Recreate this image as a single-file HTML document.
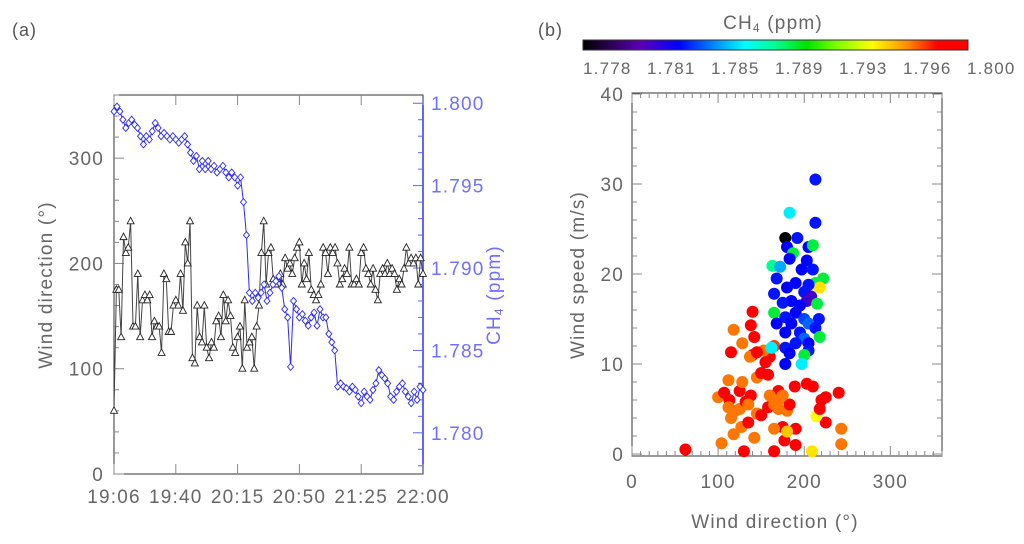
<!DOCTYPE html>
<html><head><meta charset="utf-8"><style>
html,body{margin:0;padding:0;background:#fff;}
svg{display:block;font-family:"Liberation Sans",sans-serif;}
</style></head><body>
<svg id="fig" width="1024" height="544" viewBox="0 0 1024 544">
<defs><linearGradient id="cg" x1="0" x2="1" y1="0" y2="0">
<stop offset="0" stop-color="#000"/><stop offset="0.15" stop-color="#5a00b4"/><stop offset="0.25" stop-color="#0000ff"/><stop offset="0.42" stop-color="#00ffff"/><stop offset="0.5" stop-color="#00ff90"/><stop offset="0.58" stop-color="#00e000"/><stop offset="0.66" stop-color="#80ff00"/><stop offset="0.75" stop-color="#ffff00"/><stop offset="0.84" stop-color="#ff9000"/><stop offset="0.92" stop-color="#ff0000"/><stop offset="1" stop-color="#ff0000"/></linearGradient></defs>
<text x="12" y="36" font-size="18" fill="#555" letter-spacing="1">(a)</text>
<text x="538" y="36" font-size="18" fill="#555" letter-spacing="1">(b)</text>
<g id="a"></g><g id="b"></g>
</svg>
<script>
const timeLabels=["19:06","19:40","20:15","20:50","21:25","22:00"];
const dirTicks=[0,100,200,300];
const ch4Ticks=[1.780,1.785,1.790,1.795,1.800];
const windDir=[60,175,175,130,225,210,215,240,140,140,190,130,165,170,165,170,130,145,140,140,115,190,185,135,135,160,165,160,190,155,220,200,240,110,105,160,130,125,160,120,110,125,120,145,150,130,170,145,165,150,120,115,130,140,100,165,120,125,130,100,140,160,210,240,180,210,215,185,180,185,190,180,205,195,200,190,205,215,220,180,200,185,210,175,170,165,170,180,215,210,190,215,210,215,200,180,185,195,190,215,180,180,185,180,210,215,195,190,180,195,175,165,190,195,190,200,190,195,190,175,185,180,195,215,200,205,200,205,180,205,190];
const ch4Series=[1.7995,1.7998,1.7995,1.7990,1.7985,1.7988,1.7990,1.7987,1.7985,1.7980,1.7975,1.7980,1.7978,1.7983,1.7988,1.7985,1.7980,1.7982,1.7980,1.7978,1.7980,1.7978,1.7976,1.7978,1.7980,1.7975,1.7970,1.7965,1.7968,1.7960,1.7965,1.7960,1.7965,1.7960,1.7962,1.7958,1.7960,1.7962,1.7958,1.7955,1.7958,1.7955,1.7950,1.7955,1.7940,1.7920,1.7885,1.7880,1.7885,1.7882,1.7885,1.7890,1.7880,1.7885,1.7890,1.7892,1.7895,1.7888,1.7875,1.7870,1.7840,1.7880,1.7875,1.7870,1.7872,1.7868,1.7865,1.7870,1.7873,1.7865,1.7875,1.7870,1.7870,1.7860,1.7855,1.7850,1.7828,1.7830,1.7828,1.7827,1.7825,1.7828,1.7826,1.7822,1.7818,1.7825,1.7822,1.7820,1.7826,1.7830,1.7838,1.7835,1.7833,1.7830,1.7822,1.7820,1.7825,1.7828,1.7830,1.7825,1.7822,1.7818,1.7825,1.7820,1.7828,1.7826];
const cbLabels=["1.778","1.781","1.785","1.789","1.793","1.796","1.800"];
const spdTicks=[0,10,20,30,40];
const dirTicksB=[0,100,200,300];
const scDir=[62,104,118,130,142,165,177,190,209,243,190,175,165,180,225,243,214,115,127,135,145,150,158,170,180,183,218,220,225,240,210,203,189,170,160,100,107,113,112,125,132,138,125,128,112,145,150,158,155,160,165,153,140,137,145,115,128,142,118,138,140,120,135,170,175,165,
178,183,213,213,192,180,205,210,187,183,203,163,172,168,197,210,222,213,218,205,190,180,165,200,208,203,185,175,215,195,165,190,178,200,217,185,205,168,178,195,213,218,200,190,205,178,183,205,200,162,178,197];
const scSpd=[0.5,1.2,2.2,0.3,1.8,0.3,1.5,1.0,0.3,1.1,2.8,3,2.8,2.5,3.5,2.8,4.2,4,3,3.5,4.5,4.3,5.2,5,4.8,5.5,5,6,6.3,6.8,7.5,7.8,7.5,7,6.5,6.3,6.8,6,5.2,5,5.8,6.5,7,8,8.2,8.5,9,8.8,10.2,10.8,12,11.5,11,10.8,11.3,11.3,12.3,13,13.8,14.3,15.8,4.8,5.5,6,6.5,5.5,
24,26.8,30.5,25.7,24,23,23,23.2,22.3,21.7,21.5,20.9,20.8,19.5,20.5,20.5,19.5,19,18.5,18.8,19,18.5,17.8,18,17.5,17,17,16.8,16.7,16.5,15.7,15.7,15.2,15,15,14.5,14.5,14.5,13.5,13.5,14,13,12.8,12.3,12.3,11.8,11.2,11.5,11,11.8,10,10];
const scCh4=[1.7985,1.7968,1.7968,1.7985,1.7968,1.7985,1.7985,1.7985,1.795,1.7968,1.7985,1.7985,1.7968,1.7955,1.7985,1.7968,1.7945,1.7968,1.7968,1.7985,1.7968,1.7985,1.7985,1.7968,1.7968,1.7985,1.7985,1.7985,1.7985,1.7985,1.7985,1.7985,1.7985,1.7985,1.7968,1.7968,1.7985,1.7985,1.7968,1.7968,1.7985,1.7985,1.7985,1.7968,1.7968,1.7968,1.7985,1.7985,1.7985,1.7985,1.7975,1.7968,1.7985,1.7968,1.7985,1.7985,1.7968,1.7985,1.7968,1.7985,1.7985,1.7968,1.7968,1.7968,1.7968,1.7968,
1.778,1.787,1.7838,1.7838,1.7838,1.7835,1.7835,1.790,1.790,1.7835,1.7835,1.789,1.786,1.7838,1.7835,1.7838,1.790,1.790,1.795,1.7838,1.7835,1.7835,1.7838,1.7838,1.7818,1.7818,1.7835,1.7838,1.790,1.7835,1.790,1.7835,1.7838,1.7845,1.7838,1.7835,1.785,1.7835,1.7835,1.7838,1.7838,1.790,1.785,1.7838,1.7835,1.7838,1.7835,1.7838,1.790,1.787,1.7835,1.787];
const NS="http://www.w3.org/2000/svg";
function mk(p,tag,at){const e=document.createElementNS(NS,tag);for(const k in at)e.setAttribute(k,at[k]);p.appendChild(e);return e;}
function txt(p,x,y,s,at){const e=mk(p,"text",Object.assign({x:x,y:y,"font-size":19,fill:"#666","letter-spacing":"1.2"},at||{}));e.textContent=s;return e;}
// Panel A
const A=document.getElementById("a");
const L=114,R=423,T=95,B=474;
const xA=i=>L+(R-L)*i/(windDir.length-1);
const xC=i=>L+(R-L)*i/(ch4Series.length-1);
const yD=v=>B-(B-T)*v/360;
const yC=v=>B-(B-T)*(v-1.7775)/(1.8005-1.7775);
let frame=mk(A,"rect",{x:L,y:T,width:R-L,height:B-T,fill:"none",stroke:"#333","stroke-width":1});

mk(A,"line",{x1:R,y1:T,x2:R,y2:B,stroke:"#3030ff","stroke-width":1.5});
for(let v=0;v<=360;v+=20){const y=yD(v);mk(A,"line",{x1:L,y1:y,x2:L+(v%100==0?10:5),y2:y,stroke:"#888"});}
dirTicks.forEach(v=>{const t=txt(A,L-10,yD(v)+7,String(v),{"text-anchor":"end"});});
for(let v=1.778;v<=1.8005;v+=0.001){const y=yC(v);const maj=Math.abs(v*1000-Math.round(v*200)*5)<0.01;mk(A,"line",{x1:R,y1:y,x2:R-(maj?10:5),y2:y,stroke:"#6060ff"});}
ch4Ticks.forEach(v=>{const t=txt(A,R+8,yC(v)+7,v.toFixed(3),{fill:"#7070ff"});});
timeLabels.forEach((s,k)=>{const x=L+(R-L)*k/5;mk(A,"line",{x1:x,y1:B,x2:x,y2:B-10,stroke:"#888"});mk(A,"line",{x1:x,y1:T,x2:x,y2:T+10,stroke:"#888"});const t=txt(A,x,B+29,s,{"text-anchor":"middle"});});
let yt=txt(A,0,0,"Wind direction (°)",{transform:"translate(52,285) rotate(-90)","text-anchor":"middle"});

let yt2=mk(A,"text",{transform:"translate(500,295) rotate(-90)","text-anchor":"middle","font-size":19,"letter-spacing":"1.2",fill:"#7070ff"});
yt2.innerHTML='CH<tspan font-size="12" dy="3">4</tspan><tspan dy="-3"> (ppm)</tspan>';

let p1=mk(A,"polyline",{points:windDir.map((v,i)=>xA(i)+","+yD(v)).join(" "),fill:"none",stroke:"#444","stroke-width":1});

windDir.forEach((v,i)=>{const x=xA(i),y=yD(v);const m=mk(A,"polygon",{points:`${x},${y-4} ${x-3.5},${y+2.5} ${x+3.5},${y+2.5}`,fill:"#fff",stroke:"#222","stroke-width":0.9});
});
let p2=mk(A,"polyline",{points:ch4Series.map((v,i)=>xC(i)+","+yC(v)).join(" "),fill:"none",stroke:"#2a2aff","stroke-width":1});

ch4Series.forEach((v,i)=>{const x=xC(i),y=yC(v);const m=mk(A,"polygon",{points:`${x},${y-3.5} ${x+3},${y} ${x},${y+3.5} ${x-3},${y}`,fill:"#fff",stroke:"#2a2aff","stroke-width":0.9});
});
// Panel B
const Bg=document.getElementById("b");
const L2=632,R2=942,T2=93,B2=456,Y0=454,Y40=94;
const xB=v=>L2+(R2-L2)*v/360;
const yS=v=>Y0-(Y0-Y40)*v/40;
const stops=[[0,[0,0,0]],[0.15,[90,0,180]],[0.25,[0,0,255]],[0.42,[0,255,255]],[0.5,[0,255,144]],[0.58,[0,224,0]],[0.66,[128,255,0]],[0.75,[255,255,0]],[0.84,[255,144,0]],[0.92,[255,0,0]],[1,[255,0,0]]];
function cmap(v){let t=Math.max(0,Math.min(1,(v-1.778)/0.022));for(let i=1;i<stops.length;i++){if(t<=stops[i][0]){const a=stops[i-1],b=stops[i],f=(t-a[0])/(b[0]-a[0]);const c=a[1].map((q,j)=>Math.round(q+(b[1][j]-q)*f));return `rgb(${c})`;}}return "red";}
let cb=mk(Bg,"rect",{x:583,y:40,width:385,height:10,fill:"url(#cg)",stroke:"#333","stroke-width":1});

cbLabels.forEach((s,k)=>{const t=txt(Bg,583+64*k,74,s,{"font-size":17});});
let ct=mk(Bg,"text",{x:773,y:29,"text-anchor":"middle","font-size":19,"letter-spacing":"1.2",fill:"#666"});
ct.innerHTML='CH<tspan font-size="12" dy="3">4</tspan><tspan dy="-3"> (ppm)</tspan>';

let fr2=mk(Bg,"rect",{x:L2,y:T2,width:R2-L2,height:B2-T2,fill:"none",stroke:"#333","stroke-width":1});

for(let v=0;v<=360;v+=10){const x=xB(v);const mj=v%100==0;mk(Bg,"line",{x1:x,y1:B2,x2:x,y2:B2-(mj?10:5),stroke:"#888"});mk(Bg,"line",{x1:x,y1:T2,x2:x,y2:T2+(mj?10:5),stroke:"#888"});}
for(let v=0;v<=40;v+=2){const y=yS(v);const mj=v%10==0;mk(Bg,"line",{x1:L2,y1:y,x2:L2+(mj?10:5),y2:y,stroke:"#888"});mk(Bg,"line",{x1:R2,y1:y,x2:R2-(mj?10:5),y2:y,stroke:"#888"});}
spdTicks.forEach(v=>{const t=txt(Bg,L2-8,yS(v)+7,String(v),{"text-anchor":"end"});});
dirTicksB.forEach(v=>{const t=txt(Bg,xB(v),B2+32,String(v),{"text-anchor":"middle"});});
let xt=txt(Bg,775,528,"Wind direction (°)",{"text-anchor":"middle"});

let yt3=txt(Bg,0,0,"Wind speed (m/s)",{transform:"translate(584,275) rotate(-90)","text-anchor":"middle"});

scDir.forEach((d,i)=>{const c=mk(Bg,"circle",{cx:xB(d),cy:yS(scSpd[i]),r:6,fill:cmap(scCh4[i])});
});
</script>
</body></html>
